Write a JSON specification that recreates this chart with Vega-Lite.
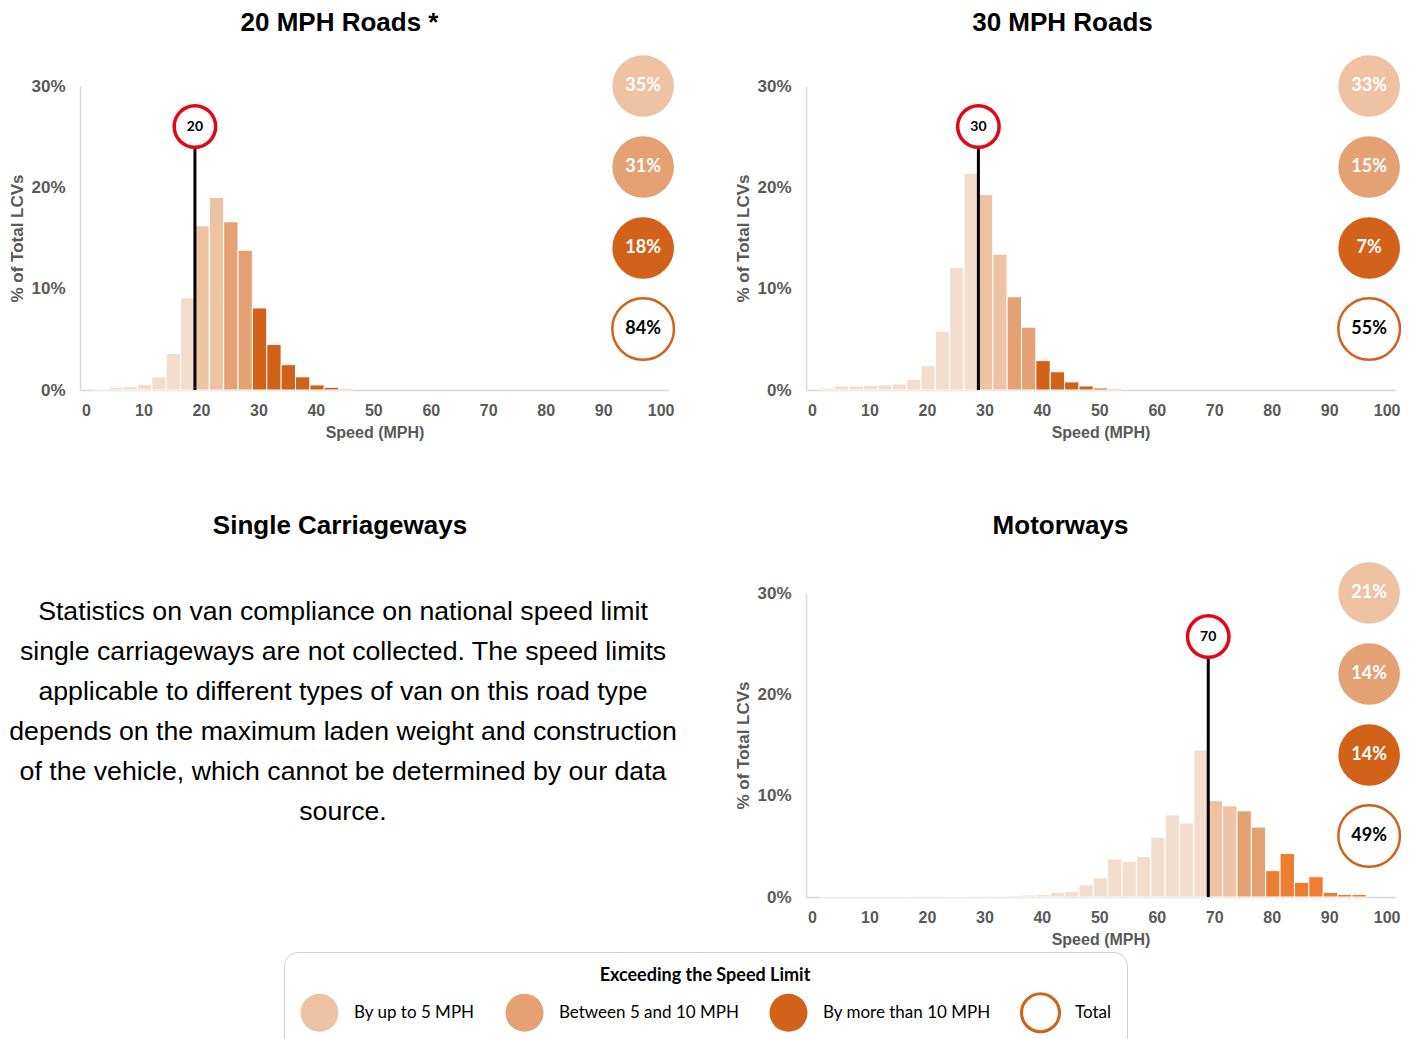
{
  "$schema": "https://vega.github.io/schema/vega-lite/v6.json",
  "background": "white",
  "padding": {"left": 8, "top": 10, "right": 5, "bottom": 5},
  "config": {
    "view": {"stroke": null},
    "font": "Liberation Sans",
    "title": {"font": "Liberation Sans", "fontSize": 26, "fontWeight": "bold", "color": "black", "anchor": "middle", "frame": "group", "offset": 14},
    "axisX": {"domainColor": "#d9d9d9", "domainWidth": 1.5, "ticks": false, "grid": false, "labelFont": "Liberation Sans", "labelFontWeight": "bold", "labelFontSize": 16, "labelColor": "#595959", "labelPadding": 12, "labelOffset": 6, "labelFlush": false, "labelOverlap": false, "titleFont": "Liberation Sans", "titleFontWeight": "bold", "titleFontSize": 16, "titleColor": "#595959", "titlePadding": 6},
    "axisY": {"domainColor": "#d9d9d9", "domainWidth": 1.5, "ticks": false, "grid": false, "labelFont": "Liberation Sans", "labelFontWeight": "bold", "labelFontSize": 17, "labelColor": "#595959", "labelPadding": 15, "labelFlush": false, "labelOverlap": false, "titleFont": "Liberation Sans", "titleFontWeight": "bold", "titleFontSize": 17, "titleColor": "#595959", "titlePadding": 4.5},
    "legend": {"orient": "none", "legendX": 204, "legendY": 866, "direction": "horizontal", "columns": 4, "columnPadding": 24, "symbolSize": 1444, "symbolType": "circle", "symbolOpacity": 1, "symbolStrokeWidth": 3, "labelFont": "Lato", "labelFontSize": 17, "labelColor": "black", "labelOffset": 14, "labelLimit": 400, "titleFont": "Lato", "titleFontSize": 18, "titleFontWeight": "bold", "titleColor": "black", "titleAnchor": "middle", "titlePadding": 7, "titleLimit": 800, "padding": 15, "strokeColor": "#d0d0d0", "cornerRadius": 14, "fillColor": "white"}
  },
  "datasets": {
    "r20": [
      {"lo": 2.5, "hi": 5, "pct": 0.001, "band": "Below the limit"},
      {"lo": 5, "hi": 7.5, "pct": 0.0027, "band": "Below the limit"},
      {"lo": 7.5, "hi": 10, "pct": 0.0035, "band": "Below the limit"},
      {"lo": 10, "hi": 12.5, "pct": 0.0055, "band": "Below the limit"},
      {"lo": 12.5, "hi": 15, "pct": 0.013, "band": "Below the limit"},
      {"lo": 15, "hi": 17.5, "pct": 0.036, "band": "Below the limit"},
      {"lo": 17.5, "hi": 20, "pct": 0.091, "band": "Below the limit"},
      {"lo": 20, "hi": 22.5, "pct": 0.162, "band": "By up to 5 MPH"},
      {"lo": 22.5, "hi": 25, "pct": 0.19, "band": "By up to 5 MPH"},
      {"lo": 25, "hi": 27.5, "pct": 0.166, "band": "Between 5 and 10 MPH"},
      {"lo": 27.5, "hi": 30, "pct": 0.138, "band": "Between 5 and 10 MPH"},
      {"lo": 30, "hi": 32.5, "pct": 0.081, "band": "By more than 10 MPH"},
      {"lo": 32.5, "hi": 35, "pct": 0.045, "band": "By more than 10 MPH"},
      {"lo": 35, "hi": 37.5, "pct": 0.025, "band": "By more than 10 MPH"},
      {"lo": 37.5, "hi": 40, "pct": 0.013, "band": "By more than 10 MPH"},
      {"lo": 40, "hi": 42.5, "pct": 0.005, "band": "By more than 10 MPH"},
      {"lo": 42.5, "hi": 45, "pct": 0.0027, "band": "By more than 10 MPH"},
      {"lo": 45, "hi": 47.5, "pct": 0.001, "band": "By more than 10 MPH"}
    ],
    "r30": [
      {"lo": 2.5, "hi": 5, "pct": 0.002, "band": "Below the limit"},
      {"lo": 5, "hi": 7.5, "pct": 0.004, "band": "Below the limit"},
      {"lo": 7.5, "hi": 10, "pct": 0.004, "band": "Below the limit"},
      {"lo": 10, "hi": 12.5, "pct": 0.0045, "band": "Below the limit"},
      {"lo": 12.5, "hi": 15, "pct": 0.005, "band": "Below the limit"},
      {"lo": 15, "hi": 17.5, "pct": 0.006, "band": "Below the limit"},
      {"lo": 17.5, "hi": 20, "pct": 0.0105, "band": "Below the limit"},
      {"lo": 20, "hi": 22.5, "pct": 0.024, "band": "Below the limit"},
      {"lo": 22.5, "hi": 25, "pct": 0.058, "band": "Below the limit"},
      {"lo": 25, "hi": 27.5, "pct": 0.121, "band": "Below the limit"},
      {"lo": 27.5, "hi": 30, "pct": 0.214, "band": "Below the limit"},
      {"lo": 30, "hi": 32.5, "pct": 0.193, "band": "By up to 5 MPH"},
      {"lo": 32.5, "hi": 35, "pct": 0.134, "band": "By up to 5 MPH"},
      {"lo": 35, "hi": 37.5, "pct": 0.092, "band": "Between 5 and 10 MPH"},
      {"lo": 37.5, "hi": 40, "pct": 0.062, "band": "Between 5 and 10 MPH"},
      {"lo": 40, "hi": 42.5, "pct": 0.029, "band": "By more than 10 MPH"},
      {"lo": 42.5, "hi": 45, "pct": 0.018, "band": "By more than 10 MPH"},
      {"lo": 45, "hi": 47.5, "pct": 0.008, "band": "By more than 10 MPH"},
      {"lo": 47.5, "hi": 50, "pct": 0.004, "band": "By more than 10 MPH"},
      {"lo": 50, "hi": 52.5, "pct": 0.002, "band": "By more than 10 MPH"},
      {"lo": 52.5, "hi": 55, "pct": 0.001, "band": "By more than 10 MPH"}
    ],
    "rmw": [
      {"lo": 2.5, "hi": 5, "pct": 0.0004, "band": "Below the limit"},
      {"lo": 5, "hi": 7.5, "pct": 0.0004, "band": "Below the limit"},
      {"lo": 7.5, "hi": 10, "pct": 0.0004, "band": "Below the limit"},
      {"lo": 10, "hi": 12.5, "pct": 0.0004, "band": "Below the limit"},
      {"lo": 12.5, "hi": 15, "pct": 0.0004, "band": "Below the limit"},
      {"lo": 15, "hi": 17.5, "pct": 0.0004, "band": "Below the limit"},
      {"lo": 17.5, "hi": 20, "pct": 0.0005, "band": "Below the limit"},
      {"lo": 20, "hi": 22.5, "pct": 0.0005, "band": "Below the limit"},
      {"lo": 22.5, "hi": 25, "pct": 0.0005, "band": "Below the limit"},
      {"lo": 25, "hi": 27.5, "pct": 0.0006, "band": "Below the limit"},
      {"lo": 27.5, "hi": 30, "pct": 0.0007, "band": "Below the limit"},
      {"lo": 30, "hi": 32.5, "pct": 0.001, "band": "Below the limit"},
      {"lo": 32.5, "hi": 35, "pct": 0.001, "band": "Below the limit"},
      {"lo": 35, "hi": 37.5, "pct": 0.0013, "band": "Below the limit"},
      {"lo": 37.5, "hi": 40, "pct": 0.002, "band": "Below the limit"},
      {"lo": 40, "hi": 42.5, "pct": 0.0023, "band": "Below the limit"},
      {"lo": 42.5, "hi": 45, "pct": 0.0046, "band": "Below the limit"},
      {"lo": 45, "hi": 47.5, "pct": 0.0056, "band": "Below the limit"},
      {"lo": 47.5, "hi": 50, "pct": 0.012, "band": "Below the limit"},
      {"lo": 50, "hi": 52.5, "pct": 0.019, "band": "Below the limit"},
      {"lo": 52.5, "hi": 55, "pct": 0.0375, "band": "Below the limit"},
      {"lo": 55, "hi": 57.5, "pct": 0.035, "band": "Below the limit"},
      {"lo": 57.5, "hi": 60, "pct": 0.04, "band": "Below the limit"},
      {"lo": 60, "hi": 62.5, "pct": 0.059, "band": "Below the limit"},
      {"lo": 62.5, "hi": 65, "pct": 0.081, "band": "Below the limit"},
      {"lo": 65, "hi": 67.5, "pct": 0.073, "band": "Below the limit"},
      {"lo": 67.5, "hi": 70, "pct": 0.145, "band": "Below the limit"},
      {"lo": 70, "hi": 72.5, "pct": 0.095, "band": "By up to 5 MPH"},
      {"lo": 72.5, "hi": 75, "pct": 0.09, "band": "By up to 5 MPH"},
      {"lo": 75, "hi": 77.5, "pct": 0.085, "band": "Between 5 and 10 MPH"},
      {"lo": 77.5, "hi": 80, "pct": 0.069, "band": "Between 5 and 10 MPH"},
      {"lo": 80, "hi": 82.5, "pct": 0.026, "band": "By more than 10 MPH"},
      {"lo": 82.5, "hi": 85, "pct": 0.043, "band": "By more than 10 MPH"},
      {"lo": 85, "hi": 87.5, "pct": 0.0145, "band": "By more than 10 MPH"},
      {"lo": 87.5, "hi": 90, "pct": 0.02, "band": "By more than 10 MPH"},
      {"lo": 90, "hi": 92.5, "pct": 0.0046, "band": "By more than 10 MPH"},
      {"lo": 92.5, "hi": 95, "pct": 0.0026, "band": "By more than 10 MPH"},
      {"lo": 95, "hi": 97.5, "pct": 0.0026, "band": "By more than 10 MPH"}
    ],
    "l20": [{"limit": 20}],
    "l30": [{"limit": 30}],
    "lmw": [{"limit": 70}],
    "s20": [
      {"band": "By up to 5 MPH", "share": 0.35},
      {"band": "Between 5 and 10 MPH", "share": 0.31},
      {"band": "By more than 10 MPH", "share": 0.18},
      {"band": "Total", "share": 0.84}
    ],
    "s30": [
      {"band": "By up to 5 MPH", "share": 0.33},
      {"band": "Between 5 and 10 MPH", "share": 0.15},
      {"band": "By more than 10 MPH", "share": 0.07},
      {"band": "Total", "share": 0.55}
    ],
    "smw": [
      {"band": "By up to 5 MPH", "share": 0.21},
      {"band": "Between 5 and 10 MPH", "share": 0.14},
      {"band": "By more than 10 MPH", "share": 0.14},
      {"band": "Total", "share": 0.49}
    ],
    "sctext": [
      {"line": 1, "text": "Statistics on van compliance on national speed limit"},
      {"line": 2, "text": "single carriageways are not collected. The speed limits"},
      {"line": 3, "text": "applicable to different types of van on this road type"},
      {"line": 4, "text": "depends on the maximum laden weight and construction"},
      {"line": 5, "text": "of the vehicle, which cannot be determined by our data"},
      {"line": 6, "text": "source."}
    ]
  },
  "columns": 2,
  "spacing": {"row": 203, "column": 137},
  "bounds": "flush",
  "resolve": {"scale": {"color": "shared", "stroke": "shared"}, "legend": {"color": "shared", "stroke": "shared"}},
  "concat": [
    {
      "title": {"text": "20 MPH Roads *", "dx": -35},
      "width": 589,
      "height": 304,
      "layer": [
        {
          "layer": [
            {
              "data": {"name": "r20"},
              "mark": {"type": "rect", "stroke": "white", "strokeWidth": 1},
              "encoding": {
                "x": {"field": "lo", "type": "quantitative", "scale": {"domain": [0, 102.5], "nice": false, "zero": false}, "axis": {"title": "Speed (MPH)", "values": [0, 10, 20, 30, 40, 50, 60, 70, 80, 90, 100]}},
                "x2": {"field": "hi"},
                "y": {"field": "pct", "type": "quantitative", "scale": {"domain": [0, 0.3], "nice": false}, "axis": {"title": "% of Total LCVs", "values": [0, 0.1, 0.2, 0.3], "format": ".0%"}},
                "y2": {"datum": 0},
                "color": {"field": "band", "type": "nominal",
                  "scale": {"domain": ["Below the limit", "By up to 5 MPH", "Between 5 and 10 MPH", "By more than 10 MPH", "Total"], "range": ["#f3ddcd", "#eec3a4", "#e4a274", "#d2621a", "#ffffff"]},
                  "legend": {"title": "Exceeding the Speed Limit", "values": ["By up to 5 MPH", "Between 5 and 10 MPH", "By more than 10 MPH", "Total"]}}
              }
            },
            {
              "data": {"name": "l20"},
              "layer": [
                {"mark": {"type": "rule", "color": "black", "strokeWidth": 3}, "encoding": {"x": {"field": "limit", "type": "quantitative"}, "y": {"datum": 0, "type": "quantitative"}, "y2": {"datum": 0.26}}},
                {"mark": {"type": "point", "shape": "circle", "filled": true, "fill": "white", "stroke": "#e30613", "strokeWidth": 3.5, "size": 1720, "opacity": 1}, "encoding": {"x": {"field": "limit", "type": "quantitative"}, "y": {"datum": 0.26, "type": "quantitative"}}},
                {"mark": {"type": "text", "font": "Lato", "fontWeight": "bold", "fontSize": 14, "color": "black"}, "encoding": {"x": {"field": "limit", "type": "quantitative"}, "y": {"datum": 0.26, "type": "quantitative"}, "text": {"field": "limit", "type": "quantitative"}}}
              ]
            }
          ]
        },
        {
          "data": {"name": "s20"},
          "layer": [
            {"mark": {"type": "point", "shape": "circle", "filled": true, "size": 3800, "opacity": 1, "strokeWidth": 2.5},
             "encoding": {
               "x": {"datum": 98, "type": "quantitative"},
               "y": {"field": "band", "type": "nominal", "scale": {"type": "point", "padding": 0, "domain": ["By up to 5 MPH", "Between 5 and 10 MPH", "By more than 10 MPH", "Total"], "range": [0, 243]}, "axis": null},
               "color": {"field": "band", "type": "nominal",
                 "scale": {"domain": ["Below the limit", "By up to 5 MPH", "Between 5 and 10 MPH", "By more than 10 MPH", "Total"], "range": ["#f3ddcd", "#eec3a4", "#e4a274", "#d2621a", "#ffffff"]},
                 "legend": {"title": "Exceeding the Speed Limit", "values": ["By up to 5 MPH", "Between 5 and 10 MPH", "By more than 10 MPH", "Total"]}},
               "stroke": {"field": "band", "type": "nominal",
                 "scale": {"domain": ["Below the limit", "By up to 5 MPH", "Between 5 and 10 MPH", "By more than 10 MPH", "Total"], "range": ["transparent", "transparent", "transparent", "transparent", "#d2621a"]},
                 "legend": {"title": "Exceeding the Speed Limit", "values": ["By up to 5 MPH", "Between 5 and 10 MPH", "By more than 10 MPH", "Total"]}}
             }},
            {"mark": {"type": "text", "font": "Lato", "fontWeight": "bold", "fontSize": 18},
             "encoding": {
               "x": {"datum": 98, "type": "quantitative"},
               "y": {"field": "band", "type": "nominal", "scale": {"type": "point", "padding": 0, "domain": ["By up to 5 MPH", "Between 5 and 10 MPH", "By more than 10 MPH", "Total"], "range": [0, 243]}, "axis": null},
               "text": {"field": "share", "type": "quantitative", "format": ".0%"},
               "color": {"condition": {"test": "datum.band === 'Total'", "value": "black"}, "value": "white"}
             }}
          ]
        }
      ],
      "resolve": {"scale": {"y": "independent"}}
    },
    {
      "title": {"text": "30 MPH Roads", "dx": -38},
      "width": 589,
      "height": 304,
      "layer": [
        {
          "layer": [
            {
              "data": {"name": "r30"},
              "mark": {"type": "rect", "stroke": "white", "strokeWidth": 1},
              "encoding": {
                "x": {"field": "lo", "type": "quantitative", "scale": {"domain": [0, 102.5], "nice": false, "zero": false}, "axis": {"title": "Speed (MPH)", "values": [0, 10, 20, 30, 40, 50, 60, 70, 80, 90, 100]}},
                "x2": {"field": "hi"},
                "y": {"field": "pct", "type": "quantitative", "scale": {"domain": [0, 0.3], "nice": false}, "axis": {"title": "% of Total LCVs", "values": [0, 0.1, 0.2, 0.3], "format": ".0%"}},
                "y2": {"datum": 0},
                "color": {"field": "band", "type": "nominal",
                  "scale": {"domain": ["Below the limit", "By up to 5 MPH", "Between 5 and 10 MPH", "By more than 10 MPH", "Total"], "range": ["#f3ddcd", "#eec3a4", "#e4a274", "#d2621a", "#ffffff"]},
                  "legend": {"title": "Exceeding the Speed Limit", "values": ["By up to 5 MPH", "Between 5 and 10 MPH", "By more than 10 MPH", "Total"]}}
              }
            },
            {
              "data": {"name": "l30"},
              "layer": [
                {"mark": {"type": "rule", "color": "black", "strokeWidth": 3}, "encoding": {"x": {"field": "limit", "type": "quantitative"}, "y": {"datum": 0, "type": "quantitative"}, "y2": {"datum": 0.26}}},
                {"mark": {"type": "point", "shape": "circle", "filled": true, "fill": "white", "stroke": "#e30613", "strokeWidth": 3.5, "size": 1720, "opacity": 1}, "encoding": {"x": {"field": "limit", "type": "quantitative"}, "y": {"datum": 0.26, "type": "quantitative"}}},
                {"mark": {"type": "text", "font": "Lato", "fontWeight": "bold", "fontSize": 14, "color": "black"}, "encoding": {"x": {"field": "limit", "type": "quantitative"}, "y": {"datum": 0.26, "type": "quantitative"}, "text": {"field": "limit", "type": "quantitative"}}}
              ]
            }
          ]
        },
        {
          "data": {"name": "s30"},
          "layer": [
            {"mark": {"type": "point", "shape": "circle", "filled": true, "size": 3800, "opacity": 1, "strokeWidth": 2.5},
             "encoding": {
               "x": {"datum": 98, "type": "quantitative"},
               "y": {"field": "band", "type": "nominal", "scale": {"type": "point", "padding": 0, "domain": ["By up to 5 MPH", "Between 5 and 10 MPH", "By more than 10 MPH", "Total"], "range": [0, 243]}, "axis": null},
               "color": {"field": "band", "type": "nominal",
                 "scale": {"domain": ["Below the limit", "By up to 5 MPH", "Between 5 and 10 MPH", "By more than 10 MPH", "Total"], "range": ["#f3ddcd", "#eec3a4", "#e4a274", "#d2621a", "#ffffff"]},
                 "legend": {"title": "Exceeding the Speed Limit", "values": ["By up to 5 MPH", "Between 5 and 10 MPH", "By more than 10 MPH", "Total"]}},
               "stroke": {"field": "band", "type": "nominal",
                 "scale": {"domain": ["Below the limit", "By up to 5 MPH", "Between 5 and 10 MPH", "By more than 10 MPH", "Total"], "range": ["transparent", "transparent", "transparent", "transparent", "#d2621a"]},
                 "legend": {"title": "Exceeding the Speed Limit", "values": ["By up to 5 MPH", "Between 5 and 10 MPH", "By more than 10 MPH", "Total"]}}
             }},
            {"mark": {"type": "text", "font": "Lato", "fontWeight": "bold", "fontSize": 18},
             "encoding": {
               "x": {"datum": 98, "type": "quantitative"},
               "y": {"field": "band", "type": "nominal", "scale": {"type": "point", "padding": 0, "domain": ["By up to 5 MPH", "Between 5 and 10 MPH", "By more than 10 MPH", "Total"], "range": [0, 243]}, "axis": null},
               "text": {"field": "share", "type": "quantitative", "format": ".0%"},
               "color": {"condition": {"test": "datum.band === 'Total'", "value": "black"}, "value": "white"}
             }}
          ]
        }
      ],
      "resolve": {"scale": {"y": "independent"}}
    },
    {
      "title": {"text": "Single Carriageways", "dx": -3, "offset": 54},
      "width": 526,
      "height": 304,
      "data": {"name": "sctext"},
      "mark": {"type": "text", "font": "Liberation Sans", "fontSize": 26.7, "align": "center", "baseline": "middle", "color": "black"},
      "encoding": {
        "x": {"datum": 0.5, "type": "quantitative", "scale": {"domain": [0, 1]}, "axis": null},
        "y": {"field": "line", "type": "ordinal", "scale": {"type": "point", "padding": 0, "range": [19, 219]}, "axis": null},
        "text": {"field": "text", "type": "nominal"}
      }
    },
    {
      "title": {"text": "Motorways", "dx": -40, "offset": 18},
      "width": 589,
      "height": 304,
      "layer": [
        {
          "layer": [
            {
              "data": {"name": "rmw"},
              "mark": {"type": "rect", "stroke": "white", "strokeWidth": 1},
              "encoding": {
                "x": {"field": "lo", "type": "quantitative", "scale": {"domain": [0, 102.5], "nice": false, "zero": false}, "axis": {"title": "Speed (MPH)", "values": [0, 10, 20, 30, 40, 50, 60, 70, 80, 90, 100]}},
                "x2": {"field": "hi"},
                "y": {"field": "pct", "type": "quantitative", "scale": {"domain": [0, 0.3], "nice": false}, "axis": {"title": "% of Total LCVs", "values": [0, 0.1, 0.2, 0.3], "format": ".0%"}},
                "y2": {"datum": 0},
                "color": {"field": "band", "type": "nominal",
                  "condition": {"test": "datum.band === 'By more than 10 MPH'", "value": "#ed7d31"},
                  "scale": {"domain": ["Below the limit", "By up to 5 MPH", "Between 5 and 10 MPH", "By more than 10 MPH", "Total"], "range": ["#f3ddcd", "#eec3a4", "#e4a274", "#d2621a", "#ffffff"]},
                  "legend": {"title": "Exceeding the Speed Limit", "values": ["By up to 5 MPH", "Between 5 and 10 MPH", "By more than 10 MPH", "Total"]}}
              }
            },
            {
              "data": {"name": "lmw"},
              "layer": [
                {"mark": {"type": "rule", "color": "black", "strokeWidth": 3}, "encoding": {"x": {"field": "limit", "type": "quantitative"}, "y": {"datum": 0, "type": "quantitative"}, "y2": {"datum": 0.257}}},
                {"mark": {"type": "point", "shape": "circle", "filled": true, "fill": "white", "stroke": "#e30613", "strokeWidth": 3.5, "size": 1720, "opacity": 1}, "encoding": {"x": {"field": "limit", "type": "quantitative"}, "y": {"datum": 0.257, "type": "quantitative"}}},
                {"mark": {"type": "text", "font": "Lato", "fontWeight": "bold", "fontSize": 14, "color": "black"}, "encoding": {"x": {"field": "limit", "type": "quantitative"}, "y": {"datum": 0.257, "type": "quantitative"}, "text": {"field": "limit", "type": "quantitative"}}}
              ]
            }
          ]
        },
        {
          "data": {"name": "smw"},
          "layer": [
            {"mark": {"type": "point", "shape": "circle", "filled": true, "size": 3800, "opacity": 1, "strokeWidth": 2.5},
             "encoding": {
               "x": {"datum": 98, "type": "quantitative"},
               "y": {"field": "band", "type": "nominal", "scale": {"type": "point", "padding": 0, "domain": ["By up to 5 MPH", "Between 5 and 10 MPH", "By more than 10 MPH", "Total"], "range": [0, 243]}, "axis": null},
               "color": {"field": "band", "type": "nominal",
                 "scale": {"domain": ["Below the limit", "By up to 5 MPH", "Between 5 and 10 MPH", "By more than 10 MPH", "Total"], "range": ["#f3ddcd", "#eec3a4", "#e4a274", "#d2621a", "#ffffff"]},
                 "legend": {"title": "Exceeding the Speed Limit", "values": ["By up to 5 MPH", "Between 5 and 10 MPH", "By more than 10 MPH", "Total"]}},
               "stroke": {"field": "band", "type": "nominal",
                 "scale": {"domain": ["Below the limit", "By up to 5 MPH", "Between 5 and 10 MPH", "By more than 10 MPH", "Total"], "range": ["transparent", "transparent", "transparent", "transparent", "#d2621a"]},
                 "legend": {"title": "Exceeding the Speed Limit", "values": ["By up to 5 MPH", "Between 5 and 10 MPH", "By more than 10 MPH", "Total"]}}
             }},
            {"mark": {"type": "text", "font": "Lato", "fontWeight": "bold", "fontSize": 18},
             "encoding": {
               "x": {"datum": 98, "type": "quantitative"},
               "y": {"field": "band", "type": "nominal", "scale": {"type": "point", "padding": 0, "domain": ["By up to 5 MPH", "Between 5 and 10 MPH", "By more than 10 MPH", "Total"], "range": [0, 243]}, "axis": null},
               "text": {"field": "share", "type": "quantitative", "format": ".0%"},
               "color": {"condition": {"test": "datum.band === 'Total'", "value": "black"}, "value": "white"}
             }}
          ]
        }
      ],
      "resolve": {"scale": {"y": "independent"}}
    }
  ]
}
